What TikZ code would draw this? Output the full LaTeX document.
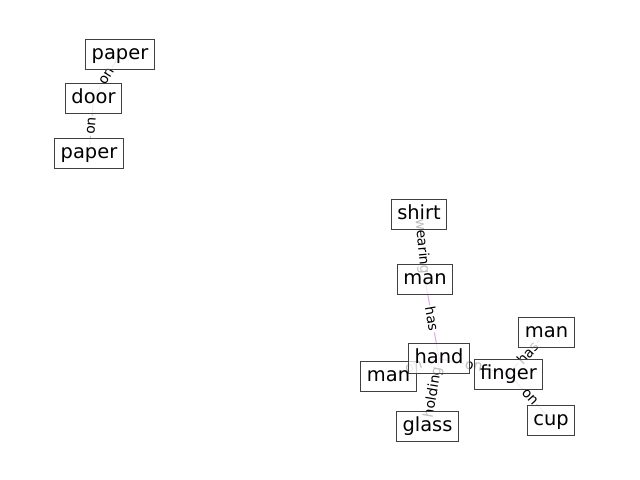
\documentclass[tikz,border=0pt]{standalone}
\usepackage{fontspec}
\setmainfont{DejaVu Sans}
\definecolor{edgecol}{RGB}{226,165,236}
\definecolor{boxcol}{RGB}{64,64,64}
\pgfdeclarelayer{bg}
\pgfsetlayers{bg,main}
\begin{document}
\begin{tikzpicture}[x=0.72pt,y=-0.72pt,
  obj/.style={draw=boxcol, line width=0.72pt, fill=white, fill opacity=0.75, text opacity=1,
    font=\fontsize{14}{16}\selectfont, inner xsep=4.3pt, inner ysep=4pt,
    text height=10.6pt, text depth=3pt},
  rel/.style={draw=edgecol, line width=0.72pt},
  lab/.style={midway, sloped, fill=white, inner sep=1pt, rounded corners=2pt,
    font=\fontsize{10}{12}\selectfont, text=black}]
\useasboundingbox (0,0) rectangle (640,480);
\node[obj] (paperA) at (120,54.5) {paper};
\node[obj] (door) at (93.5,98) {door};
\node[obj] (paperB) at (89,153.5) {paper};
\node[obj] (shirt) at (419,214) {shirt};
\node[obj] (manA) at (425,279) {man};
\node[obj] (manL) at (388.5,376) {man};
\node[obj] (hand) at (439,358.5) {hand};
\node[obj] (finger) at (508.5,374) {finger};
\node[obj] (manR) at (546.5,332) {man};
\node[obj] (glass) at (427.5,426) {glass};
\node[obj] (cup) at (551,420) {cup};
\begin{pgfonlayer}{bg}
\draw[rel] (paperA.center) -- (door.center) node[lab] {on};
\draw[rel] (door.center) -- (paperB.center) node[lab] {on};
\draw[rel] (shirt.center) -- (manA.center) node[lab] {wearing};
\draw[rel] (manA.center) -- (hand.center) node[lab] {has};
\draw[rel] (hand.center) -- (manL.center) node[lab] {on};
\draw[rel] (hand.center) -- (glass.center) node[lab] {holding};
\draw[rel] (hand.center) -- (finger.center) node[lab] {on};
\draw[rel] (finger.center) -- (manR.center) node[lab] {has};
\draw[rel] (finger.center) -- (cup.center) node[lab] {on};
\end{pgfonlayer}
\end{tikzpicture}
\end{document}
